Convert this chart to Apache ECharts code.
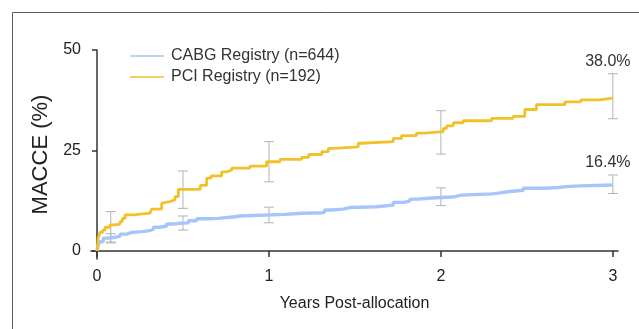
<!DOCTYPE html>
<html>
<head>
<meta charset="utf-8">
<script src="https://cdn.jsdelivr.net/npm/echarts@6/dist/echarts.min.js"></script>
<style>
  html, body { margin: 0; padding: 0; background: #fff; }
  #macceChart { width: 639px; height: 329px; }
</style>
</head>
<body>
<div id="macceChart"></div>
<script>
// Kaplan-Meier style cumulative MACCE
const pciTime = [0, 0.007, 0.017, 0.033, 0.047, 0.076, 0.105, 0.134, 0.147, 0.163, 0.211, 0.308, 0.318, 0.376, 0.386, 0.424, 0.453, 0.473, 0.6, 0.638, 0.663, 0.725, 0.754, 0.783, 0.889, 0.986, 1.064, 1.19, 1.231, 1.307, 1.345, 1.374, 1.519, 1.539, 1.723, 1.771, 1.858, 1.907, 2.014, 2.033, 2.072, 2.13, 2.295, 2.42, 2.488, 2.556, 2.721, 2.814, 2.92, 3.0];
const pciRate = [0, 3.2, 4.6, 5.2, 5.9, 6.5, 6.7, 7.3, 8.1, 9.0, 9.4, 9.8, 10.4, 11.9, 12.3, 12.7, 13.5, 15.3, 16.3, 18.1, 18.7, 19.7, 20.1, 20.6, 21.1, 22.2, 22.8, 23.3, 24.0, 24.7, 25.5, 25.9, 26.8, 27.2, 28.0, 28.7, 29.3, 29.7, 30.5, 31.1, 31.9, 32.4, 33.0, 33.5, 35.2, 36.4, 37.1, 37.6, 38.0, 38.0];

const cabgTime = [0, 0.007, 0.017, 0.036, 0.076, 0.105, 0.134, 0.172, 0.201, 0.259, 0.298, 0.327, 0.366, 0.405, 0.444, 0.483, 0.531, 0.58, 0.647, 0.705, 0.802, 0.831, 1.093, 1.19, 1.306, 1.323, 1.364, 1.432, 1.471, 1.626, 1.723, 1.781, 1.82, 1.868, 1.926, 2.081, 2.12, 2.295, 2.333, 2.40, 2.479, 2.605, 2.682, 2.731, 2.808, 3.0];
const cabgRate = [0, 1.5, 2.3, 3.2, 3.4, 3.7, 4.2, 4.6, 4.8, 5.0, 5.4, 5.9, 6.2, 6.7, 6.9, 7.0, 7.5, 8.0, 8.1, 8.5, 8.7, 9.1, 9.4, 9.5, 9.6, 10.2, 10.4, 10.8, 11.0, 11.4, 12.1, 12.4, 12.9, 13.1, 13.5, 13.9, 14.2, 14.4, 14.8, 15.1, 15.6, 15.8, 16.0, 16.2, 16.4, 16.4];

// 95% CI bars
const errTime = [0.08, 0.5, 1, 2, 3];
const pciLow = [2.2, 10.6, 17.2, 24.1, 32.9];
const pciHigh = [9.8, 19.9, 27.2, 34.9, 44.1];
const cabgLow = [2.0, 5.2, 7.0, 11.3, 14.3];
const cabgHigh = [4.3, 8.7, 10.9, 15.7, 18.9];

const xTicks = [0, 1, 2, 3];
const yTicks = [0, 25, 50];
const seriesNames = ['CABG Registry (n=644)', 'PCI Registry (n=192)'];

const CABG_COLOR = '#a6c6fa';
const PCI_COLOR = '#f2c12a';
const FONT = 'Liberation Sans, Arial, sans-serif';

const zip = (a, b) => a.map((v, i) => [v, b[i]]);

function errorBars(name, low, high, finalRate) {
  return {
    type: 'custom',
    name: name + ' CI',
    z: 1,
    silent: true,
    data: errTime.map((t, i) => [t, low[i], high[i]]),
    renderItem: (params, api) => {
      const t = api.value(0);
      const lo = api.coord([t, api.value(1)]);
      const hi = api.coord([t, api.value(2)]);
      const cap = 5;
      const style = { stroke: '#b3b3b3', lineWidth: 1, fill: null };
      const children = [
        { type: 'line', shape: { x1: lo[0], y1: lo[1], x2: hi[0], y2: hi[1] }, style },
        { type: 'line', shape: { x1: lo[0] - cap, y1: lo[1], x2: lo[0] + cap, y2: lo[1] }, style },
        { type: 'line', shape: { x1: hi[0] - cap, y1: hi[1], x2: hi[0] + cap, y2: hi[1] }, style },
      ];
      if (params.dataIndex === errTime.length - 1) {
        children.push({
          type: 'text',
          style: {
            x: hi[0] - 5, y: hi[1] - 12,
            text: finalRate.toFixed(1) + '%',
            font: '16px ' + FONT,
            fill: '#333',
            align: 'center', verticalAlign: 'middle',
          },
        });
      }
      return { type: 'group', children };
    },
  };
}

const myChart = echarts.init(document.getElementById('macceChart'), null, { renderer: 'canvas' });

const option = {
  animation: false,
  textStyle: { fontFamily: FONT },
  graphic: [
    {
      type: 'polyline',
      shape: { points: [[12.5, 340], [12.5, 12.5], [650, 12.5]] },
      style: { stroke: '#5a5a5a', lineWidth: 1, fill: null },
      silent: true,
    },
  ],
  legend: {
    orient: 'vertical',
    left: 125,
    top: 43,
    itemWidth: 34,
    itemHeight: 14,
    itemGap: 5,
    icon: 'path://M0,6.2 L34,6.2 L34,7.8 L0,7.8 Z',
    data: seriesNames,
    textStyle: { fontSize: 16, color: '#333', padding: [0, 0, 0, 2], fontFamily: FONT },
  },
  grid: { left: 91, right: 21, top: 50, bottom: 70 },
  xAxis: {
    type: 'value',
    min: -0.035,
    max: 3.03,
    name: 'Years Post-allocation',
    nameLocation: 'middle',
    nameGap: 37,
    nameTextStyle: { fontSize: 16, color: '#222' },
    splitLine: { show: false },
    axisLine: { lineStyle: { color: '#333', width: 1.5 } },
    axisTick: { customValues: xTicks, length: 6, lineStyle: { color: '#333', width: 1.5 } },
    axisLabel: { customValues: xTicks, fontSize: 16, color: '#222', margin: 10 },
  },
  yAxis: {
    type: 'value',
    min: -2,
    max: 50,
    name: 'MACCE (%)',
    nameLocation: 'middle',
    nameGap: 36,
    nameTextStyle: { fontSize: 22, color: '#222' },
    splitLine: { show: false },
    axisLine: { show: true, lineStyle: { color: '#333', width: 1.5 } },
    axisTick: { show: true, customValues: yTicks, length: 5, lineStyle: { color: '#333', width: 1.5 } },
    axisLabel: { customValues: yTicks, fontSize: 16, color: '#222', margin: 10 },
  },
  series: [
    {
      name: seriesNames[0],
      type: 'line',
      step: 'end',
      symbol: 'none',
      z: 3,
      color: CABG_COLOR,
      lineStyle: { color: CABG_COLOR, width: 3.4 },
      data: zip(cabgTime, cabgRate),
    },
    {
      name: seriesNames[1],
      type: 'line',
      step: 'end',
      symbol: 'none',
      z: 3,
      color: PCI_COLOR,
      lineStyle: { color: PCI_COLOR, width: 2.8 },
      data: zip(pciTime, pciRate),
    },
    errorBars(seriesNames[0], cabgLow, cabgHigh, cabgRate[cabgRate.length - 1]),
    errorBars(seriesNames[1], pciLow, pciHigh, pciRate[pciRate.length - 1]),
  ],
};

myChart.setOption(option);
</script>
</body>
</html>
